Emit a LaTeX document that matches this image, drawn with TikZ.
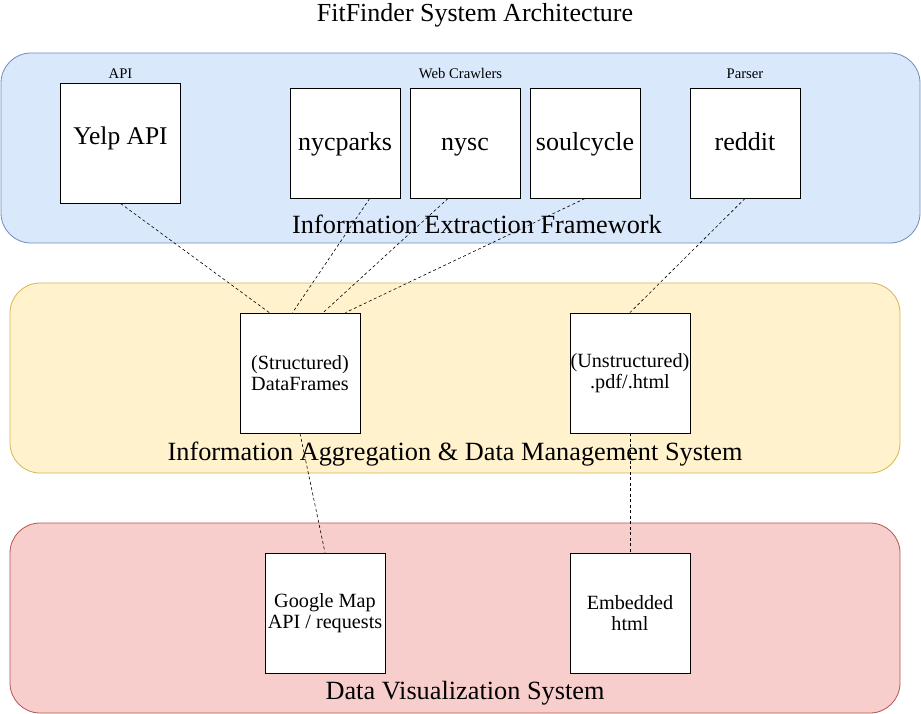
\documentclass[tikz,border=0pt]{standalone}
\usepackage{fontspec}
\setmainfont{Liberation Serif}
\definecolor{extfill}{HTML}{DAE8FC}
\definecolor{extline}{HTML}{6C8EBF}
\definecolor{aggfill}{HTML}{FFF2CC}
\definecolor{aggline}{HTML}{D6B656}
\definecolor{visfill}{HTML}{F8CECC}
\definecolor{visline}{HTML}{B85450}
\begin{document}
\begin{tikzpicture}[x=10pt,y=10pt]
\tikzstyle{every node}+=[inner sep=0pt]
\tikzstyle{layer}=[rounded corners=30pt, line width=0.8pt]
\tikzstyle{srcbox}=[draw=black, fill=white, line width=0.9pt, minimum width=110pt, minimum height=110pt, text height=19pt, text depth=3pt, font=\fontsize{26}{30}\selectfont]
\tikzstyle{bigbox}=[draw=black, fill=white, line width=0.9pt, minimum width=120pt, minimum height=120pt]
\tikzstyle{midbox}=[bigbox, align=center, font=\fontsize{20.2}{21.5}\selectfont]
\tikzstyle{tag}=[font=\fontsize{14.7}{16}\selectfont]
\tikzstyle{layername}=[font=\fontsize{26.3}{30}\selectfont]
\tikzstyle{link}=[black, line width=0.6pt, dash pattern=on 3pt off 2.5pt]
\useasboundingbox (0,0) rectangle (92.1,-71.4);
\node (title) at (47.5,-1.5) [font=\fontsize{26}{30}\selectfont] {FitFinder System Architecture};
\draw [layer, draw=extline, fill=extfill] (0.1,-5.3) rectangle (92.0,-24.3);
\draw [layer, draw=aggline, fill=aggfill] (1.0,-28.3) rectangle (90.0,-47.3);
\draw [layer, draw=visline, fill=visfill] (1.0,-52.3) rectangle (90.0,-71.3);
\node (yelp) at (12.05,-14.3) [bigbox, font=\fontsize{25.5}{30}\selectfont, text height=19pt, text depth=15pt] {Yelp API};
\node (parks) at (34.5,-14.3) [srcbox] {nycparks};
\node (nysc) at (46.5,-14.3) [srcbox] {nysc};
\node (soul) at (58.5,-14.3) [srcbox] {soulcycle};
\node (reddit) at (74.5,-14.3) [srcbox] {reddit};
\node (lapi) at (12.05,-7.4) [tag] {API};
\node (lcrawl) at (46.05,-7.4) [tag] {Web Crawlers};
\node (lparse) at (74.5,-7.4) [tag] {Parser};
\node (lext) at (47.7,-22.4) [layername] {Information Extraction Framework};
\node (dfr) at (30.0,-37.3) [midbox] {(Structured)\\DataFrames};
\node (unstr) at (63.0,-37.3) [midbox] {(Unstructured)\\.pdf/.html};
\node (lagg) at (45.5,-45.4) [layername] {Information Aggregation \& Data Management System};
\node (gmap) at (32.5,-61.3) [midbox] {Google Map\\API / requests};
\node (embed) at (63.0,-61.3) [midbox] {Embedded\\html};
\node (lvis) at (46.5,-69.3) [layername] {Data Visualization System};
\draw [link] (yelp.south) -- (dfr.117);
\draw [link] (parks.-66) -- (dfr.97);
\draw [link] (nysc.-107) -- (dfr.69);
\draw [link] (soul.south) -- (dfr.53);
\draw [link] (reddit.south) -- (unstr.north);
\draw [link] (dfr.south) -- (gmap.north);
\draw [link] (unstr.south) -- (embed.north);
\end{tikzpicture}
\end{document}
